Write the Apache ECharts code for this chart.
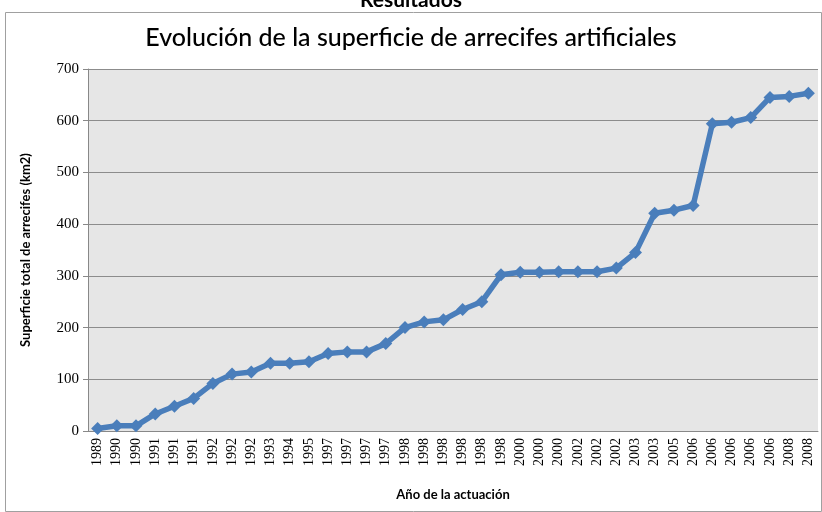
<!DOCTYPE html>
<html>
<head>
<meta charset="utf-8">
<script src="https://cdn.jsdelivr.net/npm/echarts@6/dist/echarts.min.js"></script>
<style>html,body{margin:0;padding:0;background:#fff;}#c{width:822px;height:512px;}</style>
</head>
<body>
<div id="c"></div>
<script>
const categories = ['1989','1990','1990','1991','1991','1991','1992','1992','1992','1993','1994','1995','1997','1997','1997','1997','1998','1998','1998','1998','1998','1998','2000','2000','2000','2002','2002','2002','2003','2003','2005','2006','2006','2006','2006','2006','2008','2008'];
const superficie = [5,10,10,33,48,63,92,110,114,131,131,134,150,153,153,169,200,211,215,235,250,302,307,307,308,308,308,315,345,421,427,436,594,597,606,645,647,653];
const yTicks = {min:0, max:700, interval:100};

const chart = echarts.init(document.getElementById('c'), null, {renderer:'canvas'});
chart.setOption({
  animation:false,
  backgroundColor:'#ffffff',
  title:{
    text:'Evolución de la superficie de arrecifes artificiales',
    left:'center', top:25, padding:0,
    textStyle:{fontFamily:'Lato', fontSize:25, fontWeight:'500', color:'#000'}
  },
  graphic:[
    {type:'rect', shape:{x:5.5,y:12.5,width:816,height:499}, style:{fill:'none', stroke:'#a0a0a0', lineWidth:1}, silent:true},
    {type:'text', left:'center', top:-10, style:{text:'Resultados', font:'bold 21px Lato', fill:'#000'}, z:10}
  ],
  grid:{left:88, right:4, top:69, bottom:81, show:true, backgroundColor:'#e6e6e6', borderWidth:0},
  xAxis:{
    type:'category', data:categories, boundaryGap:true,
    name:'Año de la actuación', nameLocation:'middle', nameGap:57,
    nameTextStyle:{fontFamily:'Lato', fontSize:13, fontWeight:'bold', color:'#000'},
    axisLine:{lineStyle:{color:'#888', width:1}},
    axisTick:{show:false},
    axisLabel:{interval:0, rotate:90, fontFamily:'Liberation Serif', fontSize:14, color:'#000', margin:7}
  },
  yAxis:{
    type:'value', min:yTicks.min, max:yTicks.max, interval:yTicks.interval,
    name:'Superficie total de arrecifes (km2)', nameLocation:'middle', nameGap:56,
    nameTextStyle:{fontFamily:'Lato', fontSize:13, fontWeight:'bold', color:'#000'},
    axisLine:{show:true, lineStyle:{color:'#888', width:1}},
    axisTick:{show:true, length:5, lineStyle:{color:'#888'}},
    axisLabel:{fontFamily:'Liberation Serif', fontSize:15, color:'#000', margin:9},
    splitLine:{lineStyle:{color:'#8c8c8c', width:1}}
  },
  series:[{
    type:'line', data:superficie,
    symbol:'diamond', symbolSize:13,
    lineStyle:{color:'#4a7ebb', width:5.5},
    itemStyle:{color:'#4a7ebb'}
  }]
});
</script>
</body>
</html>
